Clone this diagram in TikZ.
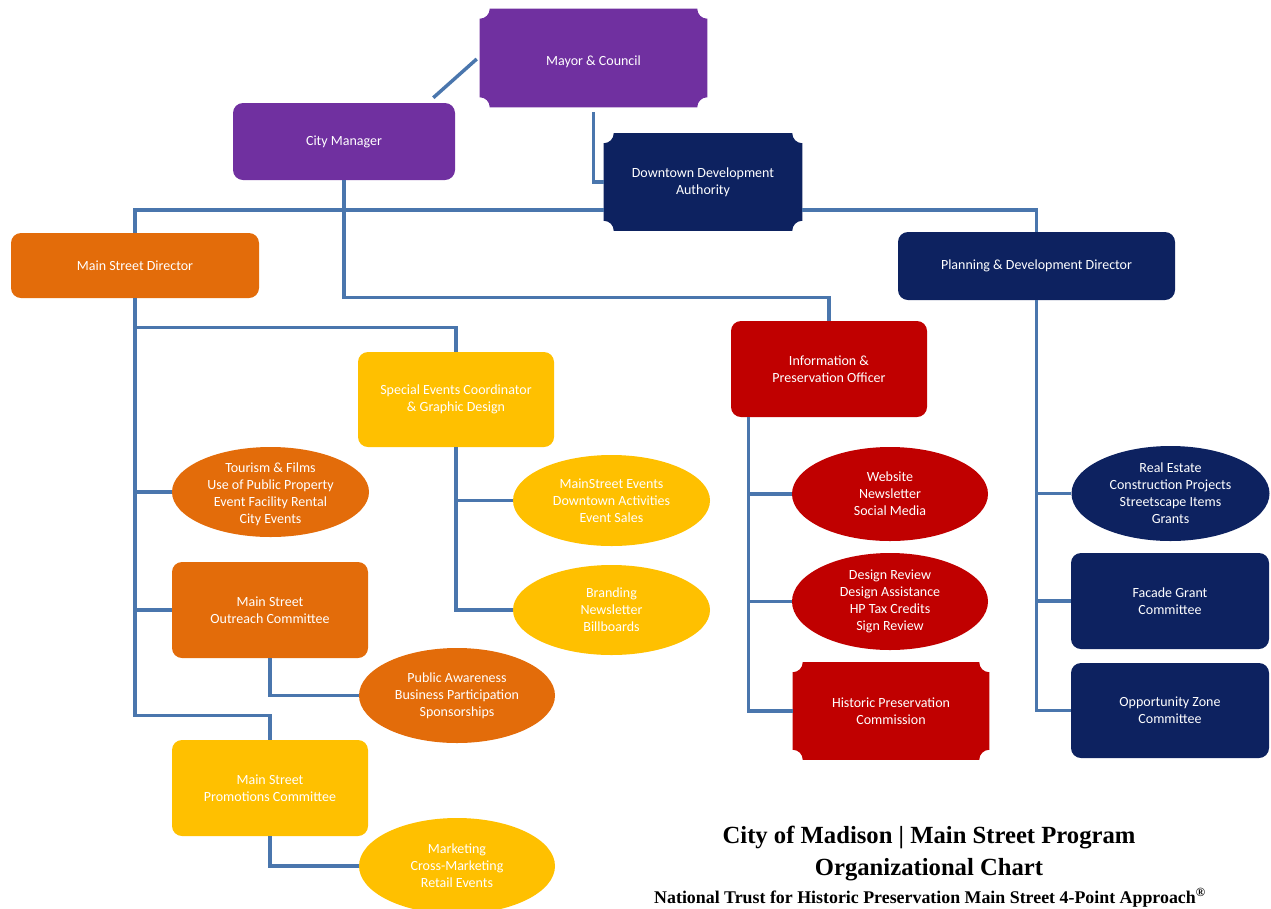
\documentclass[tikz,border=0pt]{standalone}
\usepackage{fontspec}
\setmainfont{Carlito}
\newfontfamily\titlefont{Liberation Serif}
\usetikzlibrary{shapes.geometric,calc,backgrounds}
\definecolor{cpurple}{HTML}{7030A0}
\definecolor{cnavy}{RGB}{13,34,96}
\definecolor{corange}{HTML}{E36C0A}
\definecolor{cyellow}{HTML}{FFC000}
\definecolor{cred}{HTML}{C00000}
\definecolor{clink}{RGB}{74,118,173}
\newcommand\plaquefill[2]{%
  \fill[#2] ([xshift=7.5pt]#1.north west) -- ([xshift=-7.5pt]#1.north east)
    arc[start angle=180,end angle=270,radius=7.5pt]
    -- ([yshift=7.5pt]#1.south east)
    arc[start angle=90,end angle=180,radius=7.5pt]
    -- ([xshift=7.5pt]#1.south west)
    arc[start angle=0,end angle=90,radius=7.5pt]
    -- ([yshift=-7.5pt]#1.north west)
    arc[start angle=270,end angle=360,radius=7.5pt] -- cycle;}
\newcommand\nodefont{\fontsize{10.5pt}{12.75pt}\selectfont}
\tikzset{
  base/.style={text=white, align=center, inner sep=2pt, font=\nodefont},
  rbox/.style n args={3}{base, rectangle, rounded corners=7.5pt, fill=#1,
    minimum width=#2*0.75pt, minimum height=#3*0.75pt},
  plq/.style n args={3}{base, rectangle,
    minimum width=#2*0.75pt, minimum height=#3*0.75pt},
  ell/.style n args={3}{ellipse, fill=#1, inner sep=0pt,
    minimum width=#2*0.75pt, minimum height=#3*0.75pt},
  lab/.style={base, inner sep=0pt},
  conn/.style={draw=clink, line width=2.6pt},
  ttl/.style={font=\titlefont\bfseries\fontsize{18.5pt}{22pt}\selectfont, inner sep=0pt},
  ttls/.style={font=\titlefont\bfseries\fontsize{13.4pt}{15pt}\selectfont, inner sep=0pt}
}
\begin{document}
\begin{tikzpicture}[x=0.75pt,y=-0.75pt]
\useasboundingbox (0,0) rectangle (1271,908);

% nodes
\node[plq={cpurple}{227}{98}, text height=13pt, text depth=2pt] (mayor) at (593.5,58) {Mayor \& Council};
\node[rbox={cpurple}{222}{77}] (cm) at (344,141.5) {City Manager};
\node[plq={cnavy}{198}{97}] (dda) at (703,182) {Downtown Development\\Authority};
\node[rbox={corange}{248}{65}] (msd) at (135,265.5) {Main Street Director};
\node[rbox={cnavy}{277}{68}] (pdd) at (1036.5,266) {Planning \& Development Director};
\node[rbox={cyellow}{196}{95}] (sec) at (456,399.5) {Special Events Coordinator\\\& Graphic Design};
\node[rbox={cred}{196}{96}] (ipo) at (829,369) {Information \&\\Preservation Officer};
\node[ell={corange}{197}{90}, label={[lab,yshift=-1.5pt]center:Tourism \& Films\\Use of Public Property\\Event Facility Rental\\City Events}] (tour) at (270.5,492) {};
\node[rbox={corange}{196}{96}] (outreach) at (270,610) {Main Street\\Outreach Committee};
\node[ell={corange}{196}{95}, label={[lab]center:Public Awareness\\Business Participation\\Sponsorships}] (pub) at (457,695.5) {};
\node[rbox={cyellow}{196}{96}] (promo) at (270,788) {Main Street\\Promotions Committee};
\node[ell={cyellow}{196}{96}, label={[lab]center:Marketing\\Cross-Marketing\\Retail Events}] (mkt) at (457,866) {};
\node[ell={cyellow}{197}{91}, label={[lab]center:MainStreet Events\\Downtown Activities\\Event Sales}] (mse) at (611.5,500.5) {};
\node[ell={cyellow}{197}{90}, label={[lab]center:Branding\\Newsletter\\Billboards}] (brand) at (611.5,610) {};
\node[ell={cred}{196}{94}, label={[lab]center:Website\\Newsletter\\Social Media}] (web) at (890,494) {};
\node[ell={cred}{196}{97}, label={[lab]center:Design Review\\Design Assistance\\HP Tax Credits\\Sign Review}] (dr) at (890,601.5) {};
\node[plq={cred}{196}{97}] (hpc) at (891,711) {Historic Preservation\\Commission};
\node[ell={cnavy}{198}{95}, label={[lab]center:Real Estate\\Construction Projects\\Streetscape Items\\Grants}] (re) at (1170.5,493.5) {};
\node[rbox={cnavy}{198}{96}] (fac) at (1170,601) {Facade Grant\\Committee};
\node[rbox={cnavy}{198}{95}] (opp) at (1170,710.5) {Opportunity Zone\\Committee};

\begin{scope}[on background layer]
\plaquefill{mayor}{cpurple}
\plaquefill{dda}{cnavy}
\plaquefill{hpc}{cred}
\end{scope}

% connectors
\draw[conn] ($(cm.north east)+(-22,-5)$) -- ($(mayor.west)+(-3,1)$);
\draw[conn] ($(mayor.south)+(0,5)$) |- (dda.west);
\draw[conn] ($(dda.south west)+(0,-21)$) -| (msd.north);
\draw[conn] ($(dda.south east)+(0,-21)$) -| (pdd.north);
\draw[conn] (cm.south) |- ($(ipo.north)+(0,-23)$) -- (ipo.north);
\draw[conn] (msd.south) |- ($(sec.north)+(0,-24)$) -- (sec.north);
\draw[conn] (msd.south) |- ($(promo.north)+(0,-24)$) -- (promo.north);
\draw[conn] (msd.south |- tour.west) -- (tour.west);
\draw[conn] (msd.south |- outreach.west) -- (outreach.west);
\draw[conn] (outreach.south) |- (pub.west);
\draw[conn] (promo.south) |- (mkt.west);
\draw[conn] (sec.south) |- (mse.west);
\draw[conn] (sec.south) |- (brand.west);
\coordinate (ipox) at ($(ipo.south west)+(18,0)$);
\draw[conn] (ipox) |- (web.west);
\draw[conn] (ipox) |- (dr.west);
\draw[conn] (ipox) |- (hpc.west);
\draw[conn] (pdd.south) |- (re.west);
\draw[conn] (pdd.south) |- (fac.west);
\draw[conn] (pdd.south) |- (opp.west);

% title
\node[ttl] (t1) at (929,838) {City of Madison | Main Street Program};
\node[ttl] (t2) at (929,870) {Organizational Chart};
\node[ttls] (t3) at (930,898) {National Trust for Historic Preservation Main Street 4-Point Approach\textsuperscript{®}};
\end{tikzpicture}
\end{document}
